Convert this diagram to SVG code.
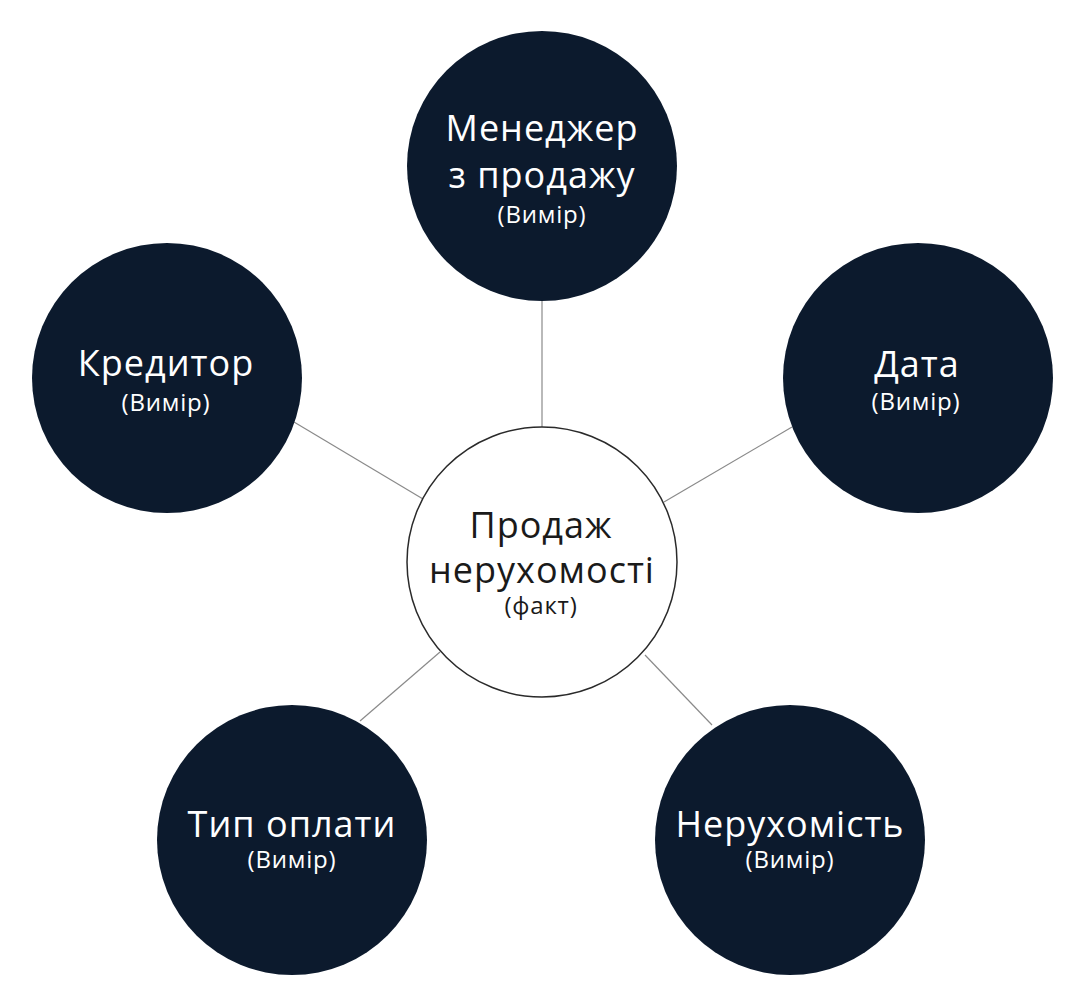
<svg xmlns="http://www.w3.org/2000/svg" width="1084" height="992" viewBox="0 0 1084 992">
<style>
.dim{fill:#0c1a2d}
.fact{fill:#ffffff;stroke:#2a2a2a;stroke-width:1.5}
.lt{font-family:"Open Sans","Liberation Sans",sans-serif;fill:#ffffff;text-anchor:middle}
.dk{font-family:"Open Sans","Liberation Sans",sans-serif;fill:#1a1a1a;text-anchor:middle}
.m{font-size:36px;letter-spacing:1px}
.s{font-size:24px;letter-spacing:0.8px}
#connectors line{stroke:#8a8a8a;stroke-width:1.2}
</style>
<rect width="1084" height="992" fill="#ffffff"/>
<g id="connectors">
<line x1="542" y1="300" x2="542" y2="428"/>
<line x1="294" y1="422" x2="423" y2="499"/>
<line x1="792" y1="427" x2="664" y2="502"/>
<line x1="440" y1="652" x2="360" y2="721"/>
<line x1="645" y1="655" x2="712" y2="725"/>
</g>
<g id="fact">
<circle class="fact" cx="542" cy="562" r="135"/>
<text class="dk m" x="541" y="538">Продаж</text>
<text class="dk m" x="542" y="583">нерухомості</text>
<text class="dk s" x="541" y="614">(факт)</text>
</g>
<g id="manager">
<circle class="dim" cx="542" cy="166" r="135"/>
<text class="lt m" x="542" y="141">Менеджер</text>
<text class="lt m" x="542" y="188">з продажу</text>
<text class="lt s" x="542" y="223">(Вимір)</text>
</g>
<g id="creditor">
<circle class="dim" cx="167" cy="378" r="135"/>
<text class="lt m" x="166" y="376">Кредитор</text>
<text class="lt s" x="166" y="411">(Вимір)</text>
</g>
<g id="date">
<circle class="dim" cx="918" cy="378" r="135"/>
<text class="lt m" x="917" y="377">Дата</text>
<text class="lt s" x="916" y="410">(Вимір)</text>
</g>
<g id="payment">
<circle class="dim" cx="292" cy="840" r="135"/>
<text class="lt m" x="292" y="837">Тип оплати</text>
<text class="lt s" x="292" y="868">(Вимір)</text>
</g>
<g id="property">
<circle class="dim" cx="790" cy="840" r="135"/>
<text class="lt m" x="790" y="837">Нерухомість</text>
<text class="lt s" x="790" y="868">(Вимір)</text>
</g>
</svg>
